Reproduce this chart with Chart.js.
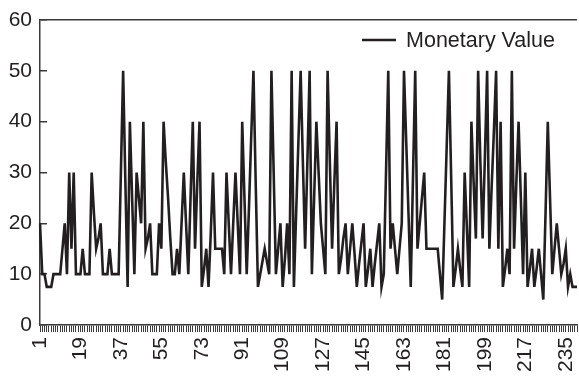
<!DOCTYPE html>
<html>
<head>
<meta charset="utf-8">
<script src="https://cdn.jsdelivr.net/npm/chart.js@4"></script>
<style>
  html, body { margin: 0; padding: 0; background: #fff; }
  #wrap { width: 579px; height: 377px; position: relative; }
</style>
</head>
<body>
<div id="wrap"><canvas id="chartMonetary"></canvas></div>
<script>
// x categories: transaction index 1..240, labelled every 18th
const categories = Array.from({length: 240}, (_, i) => String(i + 1));
const labelStep = 18;

// monetary value per index
const monetaryValue = [
  20,10,10,7.5,7.5,7.5,10,10,10,10, 15,20,10,30,15,30,10,10,10,15,
  10,10,10,30,22,15,17,20,10,10, 10,15,10,10,10,10,30,50,28,7.5,
  40,25,10,30,25,20,40,15,17,20, 10,10,10,20,15,40,32,25,17,10,
  10,15,10,20,30,20,10,25,40,15, 28,40,7.5,11,15,7.5,18,30,15,15,
  15,15,10,30,20,10,20,30,20,10, 40,25,10,23,37,50,28,7.5,10,12.5,
  15,12.5,10,50,30,10,15,20,7.5,13, 20,10,50,7.5,22,36,50,32,15,32,
  50,10,25,40,30,20,15,10,50,32, 15,28,40,10,13,17,20,10,15,20,
  14,7.5,12,16,20,7.5,11,15,7.5,12, 16,20,7.5,10,30,50,15,20,15,10,
  15,20,50,36,22,7.5,29,50,15,20, 25,30,15,15,15,15,15,15,10,5,
  20,35,50,29,7.5,11,15,11,7.5,30, 19,7.5,40,28,17,50,32,17,33,50,
  15,27,38,50,15,40,7.5,11,15,10, 50,15,28,40,25,10,30,7.5,11,15,
  7.5,11,15,10,5,22,40,25,10,15, 20,15,10,12,15,7.5,10,7.5,7.5,7.5
];

const ink = '#231f20';
const axisInk = '#3a3a3a';
const fontFamily = '"Liberation Sans", Arial, Helvetica, sans-serif';

// legend drawn inside the plot, top right
const insideLegend = {
  id: 'insideLegend',
  afterDraw(chart) {
    const {ctx, chartArea} = chart;
    const ds = chart.data.datasets[0];
    ctx.save();
    ctx.font = '21.5px ' + fontFamily;
    const label = ds.label;
    const tw = ctx.measureText(label).width;
    const textRight = chartArea.right - 22;
    const textLeft = textRight - tw;
    const y = chartArea.top + 20;
    ctx.strokeStyle = ds.borderColor;
    ctx.lineWidth = ds.borderWidth;
    ctx.beginPath();
    ctx.moveTo(textLeft - 44, y);
    ctx.lineTo(textLeft - 10, y);
    ctx.stroke();
    ctx.fillStyle = '#231f20';
    ctx.textBaseline = 'middle';
    ctx.textAlign = 'left';
    ctx.fillText(label, textLeft, y + 1);
    ctx.restore();
  }
};

new Chart(document.getElementById('chartMonetary'), {
  type: 'line',
  data: {
    labels: categories,
    datasets: [{
      label: 'Monetary Value',
      data: monetaryValue,
      borderColor: ink,
      backgroundColor: ink,
      borderWidth: 2.6,
      pointRadius: 0,
      tension: 0
    }]
  },
  options: {
    responsive: true,
    maintainAspectRatio: false,
    animation: false,
    layout: { padding: { top: 20, right: 2, left: 0, bottom: 0 } },
    plugins: {
      legend: { display: false },
      tooltip: { enabled: false }
    },
    scales: {
      x: {
        afterFit: s => { s.height = 52; s.paddingLeft = 0; s.paddingRight = 0; },
        border: { display: true, color: axisInk, width: 1.5 },
        grid: { drawOnChartArea: false, drawTicks: true, tickLength: 7, color: axisInk, lineWidth: 1 },
        ticks: {
          autoSkip: false,
          maxRotation: 90,
          minRotation: 90,
          padding: 5,
          color: '#231f20',
          font: { family: fontFamily, size: 21 },
          callback: (v, i) => (i % labelStep === 0 ? categories[i] : '')
        }
      },
      y: {
        min: 0,
        max: 60,
        afterFit: s => { s.width = 40; s.paddingTop = 0; s.paddingBottom = 0; },
        border: { display: true, color: axisInk, width: 1.5 },
        grid: {
          drawOnChartArea: true,
          drawTicks: true,
          tickLength: -7,
          tickColor: axisInk,
          lineWidth: 1.5,
          color: c => (c.tick && c.tick.value === 60 ? axisInk : 'rgba(0,0,0,0)')
        },
        ticks: {
          stepSize: 10,
          padding: 15,
          color: '#231f20',
          font: { family: fontFamily, size: 21 }
        }
      }
    }
  },
  plugins: [insideLegend]
});
</script>
</body>
</html>
